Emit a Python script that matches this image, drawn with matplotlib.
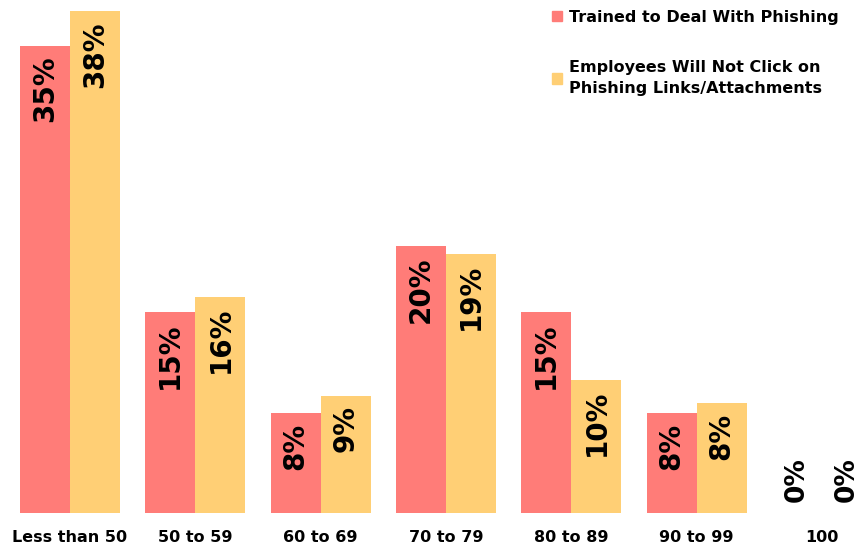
import matplotlib
matplotlib.use("Agg")
import matplotlib.pyplot as plt
import numpy as np
from matplotlib.patches import Patch

categories = ["Less than 50", "50 to 59", "60 to 69", "70 to 79", "80 to 89", "90 to 99", "100"]
trained = [35.4, 15.2, 7.6, 20.2, 15.2, 7.6, 0.0]
no_click = [38.0, 16.4, 8.9, 19.6, 10.1, 8.3, 0.0]
trained_labels = ["35%", "15%", "8%", "20%", "15%", "8%", "0%"]
no_click_labels = ["38%", "16%", "9%", "19%", "10%", "8%", "0%"]
series_names = ["Trained to Deal With Phishing",
                "Employees Will Not Click on\nPhishing Links/Attachments"]

red = "#FF7C78"
yellow = "#FFCF75"

W, H = 861, 552
fig = plt.figure(figsize=(W / 100, H / 100), dpi=100)
ax = fig.add_axes([0, 39 / H, 1, 1 - 39 / H])

x = np.arange(len(categories))
bw = 0.4
b1 = ax.bar(x - bw / 2, trained, bw, color=red, linewidth=0)
b2 = ax.bar(x + bw / 2, no_click, bw, color=yellow, linewidth=0)

for bars, labels in ((b1, trained_labels), (b2, no_click_labels)):
    for rect, lab in zip(bars, labels):
        h = rect.get_height()
        cx = rect.get_x() + rect.get_width() / 2
        if h > 0:
            ax.annotate(lab, (cx, h), xytext=(0, -7), textcoords="offset points",
                        rotation=90, ha="center", va="top", fontsize=20,
                        fontweight="bold", color="black")
        else:
            ax.annotate(lab, (cx, 0), xytext=(0, 8), textcoords="offset points",
                        rotation=90, ha="center", va="bottom", fontsize=19,
                        fontweight="bold", color="black")

px_per_unit = 125.33
xmin = -70 / px_per_unit
ax.set_xlim(xmin, xmin + W / px_per_unit)
ax.set_ylim(0, 513 / 13.2)
ax.set_xticks(x)
ax.set_xticklabels(categories, fontsize=11.5, fontweight="bold")
ax.tick_params(axis="x", length=0, pad=12)
ax.set_yticks([])
for s in ax.spines.values():
    s.set_visible(False)

handles = [Patch(color=red), Patch(color=yellow)]
leg = ax.legend(handles, series_names, loc="upper right", bbox_to_anchor=(0.985, 1.0),
                frameon=False, prop={"weight": "bold", "size": 11.5},
                handlelength=0.65, handleheight=0.65, handletextpad=0.4,
                labelspacing=2.2, borderaxespad=0.2)
for t in leg.get_texts():
    t.set_linespacing(1.55)

fig.savefig("out.png", dpi=100)
